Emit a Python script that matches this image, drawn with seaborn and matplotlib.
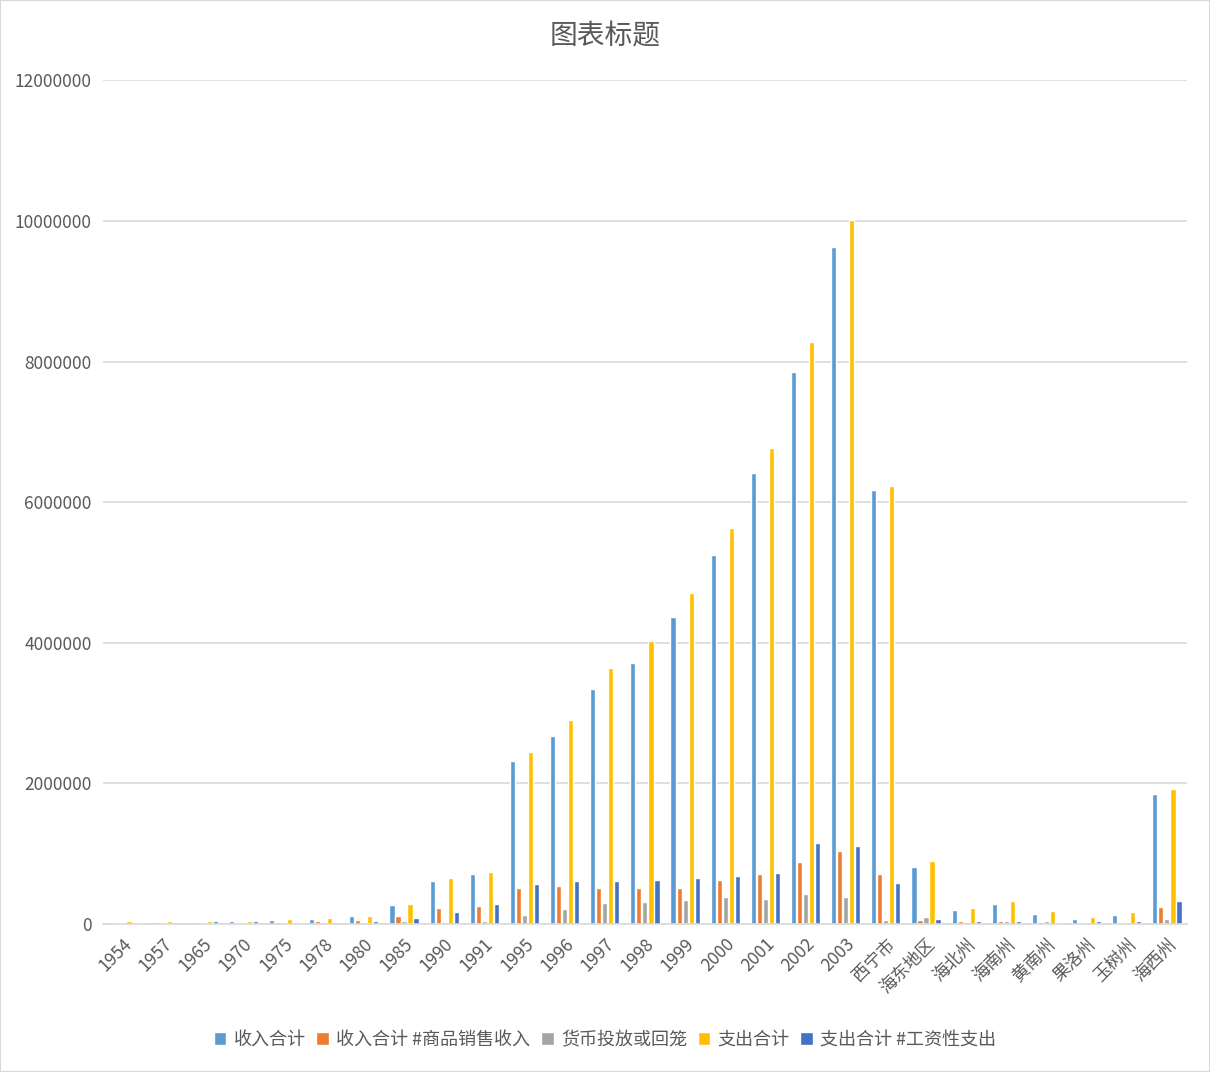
import matplotlib
matplotlib.use("Agg")
import matplotlib.pyplot as plt
import seaborn as sns
import pandas as pd
from matplotlib.patches import Rectangle

categories = ["1954", "1957", "1965", "1970", "1975", "1978", "1980", "1985", "1990", "1991",
              "1995", "1996", "1997", "1998", "1999", "2000", "2001", "2002", "2003",
              "西宁市", "海东地区", "海北州", "海南州", "黄南州", "果洛州", "玉树州", "海西州"]

income_total = [30000, 33000, 33000, 47000, 62000, 76000, 109000, 265000, 607000, 707000,
                2318000, 2673000, 3341000, 3711000, 4365000, 5246000, 6412000, 7849000, 9626000,
                6171000, 810000, 199000, 284000, 147000, 71000, 128000, 1848000]
income_sales = [22000, 33000, 33000, 22000, 33000, 47000, 62000, 118000, 223000, 251000,
                516000, 545000, 516000, 516000, 516000, 626000, 715000, 886000, 1042000,
                715000, 57000, 43000, 43000, 28000, 18000, 22000, 246000]
currency = [18000, 22000, 22000, 22000, 22000, 33000, 33000, 47000, 33000, 47000,
            128000, 213000, 299000, 313000, 346000, 388000, 360000, 431000, 388000,
            57000, 104000, 28000, 43000, 43000, 18000, 22000, 75000]
expense_total = [43000, 43000, 43000, 47000, 71000, 80000, 118000, 280000, 650000, 744000,
                 2445000, 2900000, 3640000, 4024000, 4706000, 5630000, 6768000, 8275000, 10010000,
                 6232000, 896000, 232000, 331000, 185000, 104000, 171000, 1919000]
expense_wage = [22000, 33000, 38000, 47000, 22000, 33000, 47000, 90000, 166000, 280000,
                573000, 616000, 616000, 630000, 658000, 687000, 730000, 1156000, 1113000,
                587000, 71000, 43000, 43000, 22000, 43000, 43000, 327000]

series_names = ["收入合计", "收入合计 #商品销售收入", "货币投放或回笼", "支出合计", "支出合计 #工资性支出"]
series_values = [income_total, income_sales, currency, expense_total, expense_wage]
colors = ["#5B9BD5", "#ED7D31", "#A5A5A5", "#FFC000", "#4472C4"]

rows = []
for name, vals in zip(series_names, series_values):
    for c, v in zip(categories, vals):
        rows.append({"category": c, "series": name, "value": v})
df = pd.DataFrame(rows)

sns.set_theme(style="white")
plt.rcParams["font.family"] = ["Noto Sans CJK SC", "DejaVu Sans"]

fig = plt.figure(figsize=(12.1, 10.72), dpi=100)
ax = fig.add_axes([0.085, 0.138, 0.896, 0.787])

sns.barplot(data=df, x="category", y="value", hue="series", order=categories,
            hue_order=series_names, palette=colors, width=0.75, gap=0.15,
            saturation=1, ax=ax, legend=True)

ax.set_ylim(0, 12000000)
ax.set_yticks(range(0, 12000001, 2000000))
ax.set_yticklabels([str(v) for v in range(0, 12000001, 2000000)], color="#595959", fontsize=12.5)
ax.yaxis.grid(True, color="#D9D9D9", linewidth=1.2)
ax.set_axisbelow(True)
for s in ["left", "right", "top"]:
    ax.spines[s].set_visible(False)
ax.spines["bottom"].set_color("#D9D9D9")
ax.spines["bottom"].set_linewidth(1.2)
ax.tick_params(axis="both", length=0, pad=8)
ax.set_xlim(-0.5, len(categories) - 0.5)
plt.setp(ax.get_xticklabels(), rotation=45, ha="right", rotation_mode="anchor",
         color="#595959", fontsize=12.5)
ax.set_xlabel("")
ax.set_ylabel("")

fig.text(0.5, 0.966, "图表标题", ha="center", va="center", fontsize=20, color="#595959")

handles, labels = ax.get_legend_handles_labels()
ax.get_legend().remove()
fig.legend(handles, labels, loc="center", bbox_to_anchor=(0.5, 0.030), ncol=5, frameon=False,
           fontsize=13, handlelength=0.7, handleheight=0.7, handletextpad=0.4,
           columnspacing=0.6, labelcolor="#595959")

fig.patches.append(Rectangle((0, 0), 1, 1, transform=fig.transFigure, fill=False,
                             edgecolor="#D9D9D9", linewidth=1.5))

fig.savefig("out.png", dpi=100, facecolor="white")
